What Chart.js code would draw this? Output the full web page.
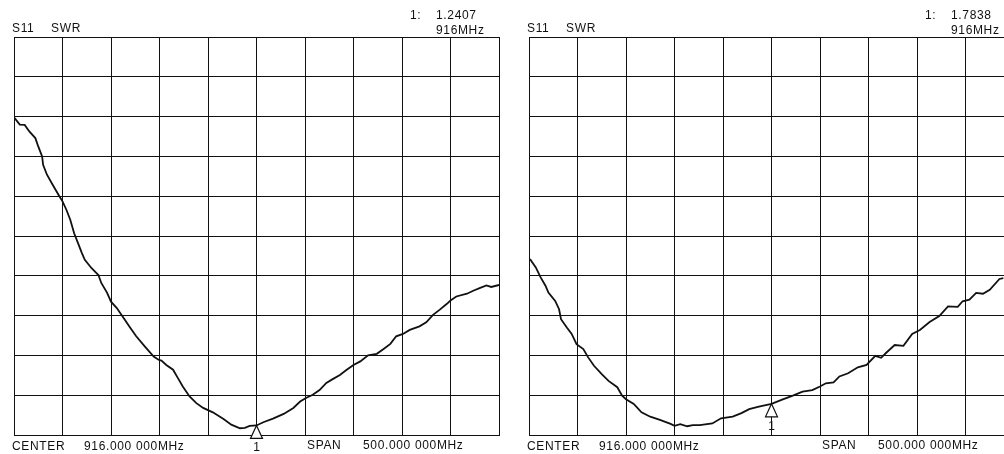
<!DOCTYPE html>
<html>
<head>
<meta charset="utf-8">
<script src="https://cdn.jsdelivr.net/npm/chart.js@4.4.1/dist/chart.umd.min.js"></script>
<style>
    html, body { margin: 0; padding: 0; background: #fff; }
    #page { position: relative; width: 1004px; height: 454px; overflow: hidden; }
    .panel { position: absolute; top: 0; width: 507px; height: 454px; }
    .panel canvas { position: absolute; left: 0; top: 0; }
    .lbl {
        position: absolute; font-family: "Liberation Sans", Arial, sans-serif;
        font-size: 12px; line-height: 12px; letter-spacing: 0.65px; color: #111; white-space: nowrap;
    }
</style>
</head>
<body>
<div id="page">
    <div class="panel" id="panel-left" style="left:0px;">
        <canvas id="chart-left" width="507" height="454"></canvas>
    </div>
    <div class="panel" id="panel-right" style="left:515px;">
        <canvas id="chart-right" width="507" height="454"></canvas>
    </div>
</div>

<script>
// Sweep settings (MHz) and SWR scale
const centerMHz = 916;
const spanMHz = 500;
const xStep = 50;
const swrMin = 1;
const swrMax = 11;
const swrStep = 1;

// Left trace
const leftFreq = [666, 672, 677, 682, 688, 691, 695, 696, 700, 706, 712, 716, 720, 724, 728, 732, 736, 739, 746, 753,
    756, 762, 766, 772, 779, 786, 792, 801, 810, 815, 818, 823, 830, 835, 840, 847, 854, 861, 871, 882,
    890, 899, 904, 909, 916, 923, 933, 944, 954, 961, 967, 974, 981, 988, 995, 1002, 1009, 1016, 1023, 1031,
    1040, 1047, 1054, 1060, 1067, 1074, 1084, 1091, 1098, 1105, 1112, 1116, 1122, 1133, 1140, 1146, 1153, 1158, 1166];
const leftSwr = [8.98, 8.8, 8.79, 8.62, 8.46, 8.25, 8.0, 7.79, 7.54, 7.28, 7.03, 6.87, 6.66, 6.41, 6.07, 5.82, 5.57, 5.40, 5.19, 5.02,
    4.82, 4.57, 4.35, 4.19, 3.94, 3.69, 3.48, 3.22, 2.97, 2.89, 2.87, 2.76, 2.64, 2.43, 2.22, 1.97, 1.80, 1.68, 1.57, 1.40,
    1.26, 1.17, 1.18, 1.23, 1.24, 1.32, 1.41, 1.53, 1.68, 1.84, 1.93, 2.01, 2.13, 2.31, 2.41, 2.51, 2.64, 2.76, 2.85, 3.0,
    3.04, 3.16, 3.29, 3.48, 3.54, 3.64, 3.73, 3.83, 4.02, 4.15, 4.29, 4.38, 4.48, 4.55, 4.63, 4.69, 4.76, 4.72, 4.77];
const leftMarkerSwr = 1.2407;

// Right trace (runs off the picture on the right)
const rightFreq = [667, 673, 678, 683, 686, 693, 697, 699, 705, 710, 715, 722, 727, 733, 741, 748, 757, 762, 766, 774,
    782, 791, 801, 812, 816, 822, 829, 835, 842, 855, 864, 876, 885, 893, 903, 916, 927, 938, 948, 958,
    966, 972, 980, 986, 995, 1005, 1014, 1023, 1029, 1034, 1043, 1052, 1061, 1069, 1079, 1089, 1098, 1108, 1113, 1120,
    1127, 1134, 1141, 1151, 1155];
const rightSwr = [5.42, 5.21, 4.96, 4.75, 4.58, 4.37, 4.16, 3.91, 3.70, 3.54, 3.28, 3.16, 2.95, 2.74, 2.53, 2.36, 2.20, 1.99, 1.90, 1.78,
    1.57, 1.46, 1.38, 1.28, 1.23, 1.27, 1.22, 1.25, 1.25, 1.29, 1.42, 1.46, 1.55, 1.65, 1.71, 1.78, 1.89, 1.99, 2.09, 2.13,
    2.22, 2.30, 2.32, 2.47, 2.55, 2.70, 2.76, 2.99, 2.94, 3.06, 3.26, 3.24, 3.54, 3.64, 3.84, 3.99, 4.23, 4.22, 4.36, 4.40,
    4.57, 4.55, 4.65, 4.92, 4.94];
const rightMarkerSwr = 1.7838;

// Header / footer texts
const traceLabel = 'S11';
const formatLabel = 'SWR';
const markerNo = '1';
const centerText = '916.000 000MHz';
const spanText = '500.000 000MHz';

// Draws the marker triangle (apex on the trace) and its number
const markerPlugin = {
    id: 'marker',
    afterDatasetsDraw(chart, args, opts) {
        const ctx = chart.ctx;
        const x = chart.scales.x.getPixelForValue(opts.freq);
        const y = chart.scales.y.getPixelForValue(opts.swr);
        ctx.save();
        ctx.beginPath();
        ctx.moveTo(x, y);
        ctx.lineTo(x - 6, y + 13);
        ctx.lineTo(x + 6, y + 13);
        ctx.closePath();
        ctx.fillStyle = '#fff';
        ctx.fill();
        ctx.strokeStyle = '#111';
        ctx.lineWidth = 1.2;
        ctx.stroke();
        ctx.fillStyle = '#111';
        ctx.font = '12px "Liberation Sans", Arial, sans-serif';
        ctx.textAlign = 'center';
        ctx.textBaseline = 'alphabetic';
        ctx.fillText(markerNo, x, y + 26);
        ctx.restore();
    }
};

function addLabel(panel, text, left, top) {
    const el = document.createElement('div');
    el.className = 'lbl';
    el.style.left = left + 'px';
    el.style.top = top + 'px';
    el.textContent = text;
    panel.appendChild(el);
}

function buildPanel(panelId, canvasId, freq, swr, markerSwr) {
    const panel = document.getElementById(panelId);
    addLabel(panel, traceLabel, 12, 22);
    addLabel(panel, formatLabel, 51, 22);
    addLabel(panel, markerNo + ':', 410, 9);
    addLabel(panel, markerSwr.toFixed(4), 436, 9);
    addLabel(panel, centerMHz + 'MHz', 436, 24);
    addLabel(panel, 'CENTER', 12, 440);
    addLabel(panel, centerText, 84, 440);
    addLabel(panel, 'SPAN', 307, 439);
    addLabel(panel, spanText, 363, 439);

    const points = freq.map((f, i) => ({ x: f, y: swr[i] }));

    new Chart(document.getElementById(canvasId), {
        type: 'line',
        data: {
            datasets: [{
                data: points,
                borderColor: '#111',
                borderWidth: 1.8,
                pointRadius: 0,
                tension: 0,
                fill: false
            }]
        },
        options: {
            responsive: false,
            animation: false,
            devicePixelRatio: 1,
            layout: { padding: { left: 14, right: 8, top: 37, bottom: 19 } },
            plugins: {
                legend: { display: false },
                tooltip: { enabled: false },
                marker: { freq: centerMHz, swr: markerSwr }
            },
            scales: {
                x: {
                    type: 'linear',
                    min: centerMHz - spanMHz / 2,
                    max: centerMHz + spanMHz / 2,
                    ticks: { display: false, stepSize: xStep },
                    grid: { color: '#111', lineWidth: 1, drawTicks: false },
                    border: { display: true, color: '#111', width: 1 }
                },
                y: {
                    min: swrMin,
                    max: swrMax,
                    ticks: { display: false, stepSize: swrStep },
                    grid: { color: '#111', lineWidth: 1, drawTicks: false },
                    border: { display: true, color: '#111', width: 1 }
                }
            }
        },
        plugins: [markerPlugin]
    });
}

buildPanel('panel-left', 'chart-left', leftFreq, leftSwr, leftMarkerSwr);
buildPanel('panel-right', 'chart-right', rightFreq, rightSwr, rightMarkerSwr);
</script>
</body>
</html>
